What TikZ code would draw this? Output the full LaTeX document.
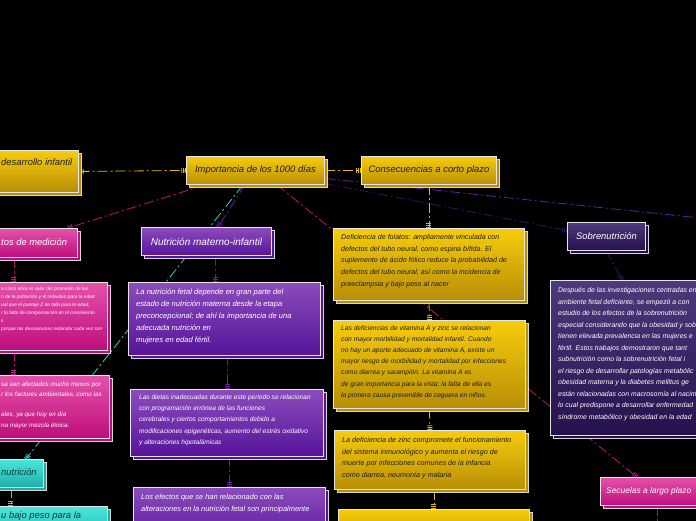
\documentclass[tikz,border=0pt]{standalone}
\usepackage{fontspec}
\setmainfont{Liberation Sans}
\usetikzlibrary{arrows.meta,shadows,backgrounds}
\definecolor{ytop}{HTML}{F7CC0C}
\definecolor{ybot}{HTML}{B88E06}
\definecolor{ptop}{HTML}{8C4CBC}
\definecolor{pbot}{HTML}{56149A}
\definecolor{mtop}{HTML}{E452AA}
\definecolor{mbot}{HTML}{BE0E7C}
\definecolor{dtop}{HTML}{4C3A7C}
\definecolor{dbot}{HTML}{26104C}
\definecolor{ttop}{HTML}{48E6DC}
\definecolor{tbot}{HTML}{1EAEA6}
\definecolor{edge}{HTML}{E6E6E6}
\definecolor{cyel}{HTML}{E8B800}
\definecolor{cpink}{HTML}{C0127E}
\definecolor{ccyan}{HTML}{2ED2C8}
\definecolor{cpur}{HTML}{6A1AAA}
\definecolor{cdark}{HTML}{2C1660}
\definecolor{tealtext}{HTML}{0E3A3A}
\tikzset{
  mk/.tip={Bar[width=5pt,line width=0.9pt,sep=1pt]Bar[width=5pt,line width=0.9pt,sep=1pt]Bar[width=5pt,line width=0.9pt]},
  boxbase/.style={rectangle, draw=edge, line width=0.9pt, inner sep=0pt, anchor=north west,
    general shadow={shadow xshift=3pt, shadow yshift=-3pt, draw=edge!85!gray, line width=0.9pt, fill=#1}},
  ybox/.style={boxbase=ybot, top color=ytop, bottom color=ybot, text=black!88},
  pbox/.style={boxbase=pbot, top color=ptop, bottom color=pbot, text=white},
  mbox/.style={boxbase=mbot, top color=mtop, bottom color=mbot, text=white},
  dbox/.style={boxbase=dbot, top color=dtop, bottom color=dbot, text=white},
  tbox/.style={boxbase=tbot, top color=ttop, bottom color=tbot, text=tealtext},
  title/.style={font=\fontsize{9.4}{11}\selectfont\itshape},
  body/.style={align=left, inner sep=0pt},
  con/.style={line width=0.8pt, dash pattern=on 10pt off 3pt on 2pt off 3pt},
}
\begin{document}
\begin{tikzpicture}[x=1pt,y=-1pt]
\useasboundingbox (0,0) rectangle (696,520);
% ---- boxes ----
\node[ybox, minimum width=138pt, minimum height=42pt] (box1) at (-60,150) {};
\node[title, text=black!88, anchor=west, inner sep=0pt] (tbox1) at (1,162) {desarrollo infantil};
\node[ybox, title, minimum width=138pt, minimum height=28pt] (imp) at (186,156) {Importancia de los 1000 días};
\node[ybox, title, minimum width=135pt, minimum height=28pt] (cons) at (361,156) {Consecuencias a corto plazo};
\node[mbox, minimum width=137pt, minimum height=29pt] (instr) at (-60,228) {};
\node[title, text=white, anchor=west, inner sep=0pt] (tinstr) at (1,242) {tos de medición};
\node[pbox, title, font=\fontsize{10}{11}\selectfont\itshape, minimum width=130pt, minimum height=28pt] (nmi) at (141,227) {Nutrición materno-infantil};
\node[dbox, title, minimum width=78pt, minimum height=28pt] (sobre) at (567,222) {Sobrenutrición};
\node[ybox, minimum width=191pt, minimum height=72pt] (fol) at (333,228) {};
\node[ybox, minimum width=192pt, minimum height=88pt] (vita) at (333,320) {};
\node[ybox, minimum width=191pt, minimum height=59pt] (zinc) at (334,430) {};
\node[ybox, minimum width=191pt, minimum height=40pt] (bot) at (338,509) {};
\node[pbox, minimum width=192pt, minimum height=73pt] (b11) at (128,282) {};
\node[pbox, minimum width=193pt, minimum height=67pt] (b12) at (130,389) {};
\node[pbox, minimum width=192pt, minimum height=60pt] (b13) at (133,487) {};
\node[mbox, minimum width=187pt, minimum height=68pt] (pk14) at (-80,282) {};
\node[mbox, minimum width=189pt, minimum height=63pt] (pk15) at (-80,375) {};
\node[tbox, minimum width=103pt, minimum height=28pt] (teal16) at (-60,459) {};
\node[title, text=tealtext, anchor=west, inner sep=0pt] (tteal16) at (1,472) {nutrición};
\node[tbox, minimum width=187pt, minimum height=40pt] (teal17) at (-80,506) {};
\node[title, text=tealtext, anchor=base west, inner sep=0pt] (tteal17) at (1,518) {u bajo peso para la};
\node[dbox, minimum width=200pt, minimum height=155pt] (desp) at (550,280) {};
\node[mbox, minimum width=130pt, minimum height=28pt] (sec) at (600,477) {};
\node[text=white, font=\fontsize{8.4}{10}\selectfont\itshape, anchor=west, inner sep=0pt] (tsec) at (606,491) {Secuelas a largo plazo};
% ---- body texts ----
\node[body, anchor=west, text=black!88, font=\fontsize{7.1}{11.7}\selectfont\itshape] (tfol) at (341,261) {Deficiencia de folatos: ampliamente vinculada con\\defectos del tubo neural, como espina bífida. El\\suplemento de ácido fólico reduce la probabilidad de\\defectos del tubo neural, así como la incidencia de\\preeclampsia y bajo peso al nacer};
\node[body, anchor=west, text=black!88, font=\fontsize{6.65}{11.2}\selectfont\itshape] (tvita) at (341,362) {Las deficiencias de vitamina A y zinc se relacionan\\con mayor morbilidad y mortalidad infantil. Cuando\\no hay un aporte adecuado de vitamina A, existe un\\mayor riesgo de morbilidad y mortalidad por infecciones\\como diarrea y sarampión. La vitamina A es\\de gran importancia para la vista; la falta de ella es\\la primera causa prevenible de ceguera en niños.};
\node[body, anchor=west, text=black!88, font=\fontsize{7.2}{11.7}\selectfont\itshape] (tzinc) at (342,458) {La deficiencia de zinc compromete el funcionamiento\\del sistema inmunológico y aumenta el riesgo de\\muerte por infecciones comunes de la infancia\\como diarrea, neumonía y malaria};
\node[body, anchor=west, text=white, font=\fontsize{7.6}{12}\selectfont\itshape] (tb11) at (136,316) {La nutrición fetal depende en gran parte del\\estado de nutrición materna desde la etapa\\preconcepcional; de ahí la importancia de una\\adecuada nutrición en\\mujeres en edad fértil.};
\node[body, anchor=west, text=white, font=\fontsize{6.55}{11.3}\selectfont\itshape] (tb12) at (139,420) {Las dietas inadecuadas durante este periodo se relacionan\\con programación errónea de las funciones\\cerebrales y ciertos comportamientos debido a\\modificaciones epigenéticas, aumento del estrés oxidativo\\y alteraciones hipotalámicas};
\node[body, anchor=north west, text=white, font=\fontsize{7.4}{12}\selectfont\itshape] (tb13) at (141,494) {Los efectos que se han relacionado con las\\alteraciones en la nutrición fetal son principalmente};
\node[body, anchor=west, text=white, font=\fontsize{4.8}{8}\selectfont\itshape] (tpk14) at (1,309) {a cinco años el valor del promedio de las\\n de la población y el individuo para la edad\\ual que el puntaje Z de talla para la edad,\\r la falta de compensación en el crecimiento\\s\\porque las desviaciones estándar cada vez son};
\node[body, anchor=west, text=white, font=\fontsize{6.3}{10.3}\selectfont\itshape] (tpk15) at (1,405) {sa van afectados mucho menos por\\r los factores ambientales, como las\\[10.3pt]ales, ya que hoy en día\\na mayor mezcla étnica.};
\node[body, anchor=west, text=white, font=\fontsize{6.9}{11.5}\selectfont\itshape] (tdesp) at (558,354) {Después de las investigaciones centradas en\\ambiente fetal deficiente, se empezó a con\\estudio de los efectos de la sobrenutrición\\especial considerando que la obesidad y sob\\tienen elevada prevalencia en las mujeres e\\fértil. Estos trabajos demostraron que tant\\subnutrición como la sobrenutrición fetal i\\el riesgo de desarrollar patologías metabólic\\obesidad materna y la diabetes mellitus ge\\están relacionadas con macrosomía al nacim\\lo cual predispone a desarrollar enfermedad\\síndrome metabólico y obesidad en la edad};
\coordinate (offR) at (700,218);
\coordinate (offB) at (657,525);
% ---- connectors (behind) ----
\begin{pgfonlayer}{background}
\fill[black] (-10,-10) rectangle (706,530);
\draw[con, cyel, mk-mk] (box1.east) -- (imp.west);
\draw[con, cyel, -mk] (imp.east) -- (cons.west);
\draw[con, cpink, -mk] ([xshift=19pt]imp.south west) -- ([xshift=-10pt]instr.north east);
\draw[con, ccyan, -mk] ([xshift=57pt]imp.south west) -- ([xshift=-18pt]teal16.north east);
\draw[con, cpur, -mk] ([xshift=59pt]imp.south west) -- ([xshift=77pt]nmi.north west);
\draw[con, cpink, -mk] ([xshift=91pt]imp.south west) -- ([xshift=37pt]sec.north west);
\draw[con, cpur] ([yshift=-8pt]imp.east) -- (offR);
\draw[con, cdark, -mk] ([yshift=-13pt]imp.east) -- ([yshift=6pt]sobre.west);
\draw[con, cdark, -mk] (sobre.south) -- ([xshift=72pt]desp.north west);
\draw[con, cyel, -mk] (cons.south) -- (fol.north);
\draw[con, cyel, -mk] (fol.south) -- (vita.north);
\draw[con, cyel, -mk] (vita.south) -- (zinc.north);
\draw[con, cyel, -mk] ([xshift=4pt]zinc.south) -- (bot.north);
\draw[con, cpink, -mk] ([xshift=-64pt]instr.south east) -- ([xshift=-94pt]pk14.north east);
\draw[con, cpink, -mk] ([xshift=-94pt]pk14.south east) -- ([xshift=-96pt]pk15.north east);
\draw[con, ccyan, -mk] ([xshift=-33pt]teal16.south east) -- ([xshift=-97pt]teal17.north east);
\draw[con, cpur, -mk] ([xshift=74pt]nmi.south west) -- ([xshift=87pt]b11.north west);
\draw[con, cpur, -mk] ([xshift=99pt]b11.south west) -- ([xshift=97pt]b12.north west);
\draw[con, cpur, -mk] ([xshift=99pt]b12.south west) -- ([xshift=96pt]b13.north west);
\draw[con, cpink] ([xshift=57pt]sec.south west) -- (offB);
\end{pgfonlayer}
\end{tikzpicture}
\end{document}
